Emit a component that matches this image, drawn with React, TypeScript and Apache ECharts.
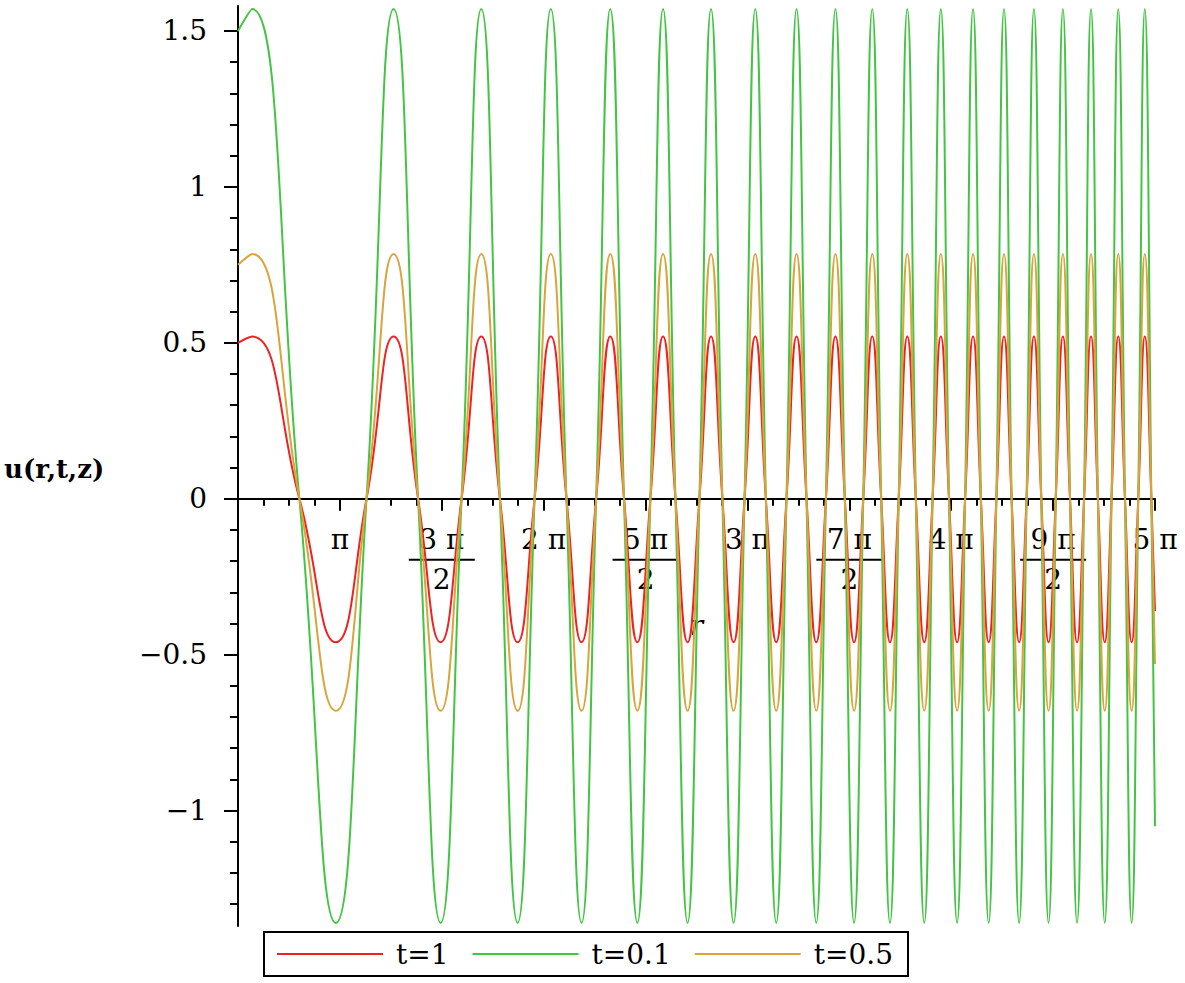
import React, { useEffect, useRef } from "react";
import * as echarts from "echarts";

// r / π positions of the curve's start, extrema and zero crossings
const rOverPi = [
  0.5,
  0.5692, 0.8013, 0.98, 1.1307,
  1.2636, 1.3838, 1.4943, 1.5972,
  1.6939, 1.7853, 1.8723, 1.9554,
  2.0352, 2.1119, 2.1859, 2.2575,
  2.3269, 2.3943, 2.4598, 2.5237,
  2.5859, 2.6467, 2.7062, 2.7643,
  2.8213, 2.8771, 2.9319, 2.9857,
  3.0385, 3.0904, 3.1414, 3.1917,
  3.2411, 3.2898, 3.3378, 3.3851,
  3.4318, 3.4779, 3.5233, 3.5682,
  3.6125, 3.6563, 3.6995, 3.7423,
  3.7845, 3.8263, 3.8677, 3.9086,
  3.9491, 3.9892, 4.0288, 4.0681,
  4.1071, 4.1456, 4.1838, 4.2216,
  4.2591, 4.2963, 4.3332, 4.3698,
  4.406, 4.442, 4.4776, 4.513,
  4.5481, 4.583, 4.6175, 4.6519,
  4.686, 4.7198, 4.7534, 4.7867,
  4.8198, 4.8527, 4.8854, 4.9178,
  4.9501, 4.9821,
  5.0,
];

const uT1 = [
  0.5,
  0.52, 0, -0.46, 0,
  0.52, 0, -0.46, 0,
  0.52, 0, -0.46, 0,
  0.52, 0, -0.46, 0,
  0.52, 0, -0.46, 0,
  0.52, 0, -0.46, 0,
  0.52, 0, -0.46, 0,
  0.52, 0, -0.46, 0,
  0.52, 0, -0.46, 0,
  0.52, 0, -0.46, 0,
  0.52, 0, -0.46, 0,
  0.52, 0, -0.46, 0,
  0.52, 0, -0.46, 0,
  0.52, 0, -0.46, 0,
  0.52, 0, -0.46, 0,
  0.52, 0, -0.46, 0,
  0.52, 0, -0.46, 0,
  0.52, 0, -0.46, 0,
  0.52, 0, -0.46, 0,
  0.52, 0,
  -0.36,
];

const uT01 = [
  1.5,
  1.57, 0, -1.36, 0,
  1.57, 0, -1.36, 0,
  1.57, 0, -1.36, 0,
  1.57, 0, -1.36, 0,
  1.57, 0, -1.36, 0,
  1.57, 0, -1.36, 0,
  1.57, 0, -1.36, 0,
  1.57, 0, -1.36, 0,
  1.57, 0, -1.36, 0,
  1.57, 0, -1.36, 0,
  1.57, 0, -1.36, 0,
  1.57, 0, -1.36, 0,
  1.57, 0, -1.36, 0,
  1.57, 0, -1.36, 0,
  1.57, 0, -1.36, 0,
  1.57, 0, -1.36, 0,
  1.57, 0, -1.36, 0,
  1.57, 0, -1.36, 0,
  1.57, 0, -1.36, 0,
  1.57, 0,
  -1.05,
];

const uT05 = [
  0.75,
  0.785, 0, -0.68, 0,
  0.785, 0, -0.68, 0,
  0.785, 0, -0.68, 0,
  0.785, 0, -0.68, 0,
  0.785, 0, -0.68, 0,
  0.785, 0, -0.68, 0,
  0.785, 0, -0.68, 0,
  0.785, 0, -0.68, 0,
  0.785, 0, -0.68, 0,
  0.785, 0, -0.68, 0,
  0.785, 0, -0.68, 0,
  0.785, 0, -0.68, 0,
  0.785, 0, -0.68, 0,
  0.785, 0, -0.68, 0,
  0.785, 0, -0.68, 0,
  0.785, 0, -0.68, 0,
  0.785, 0, -0.68, 0,
  0.785, 0, -0.68, 0,
  0.785, 0, -0.68, 0,
  0.785, 0,
  -0.53,
];

const seriesNames = ["t=1", "t=0.1", "t=0.5"];
const seriesColors = ["#ee2222", "#44c444", "#d9a43c"];

const xTickValues = [0.5, 1, 1.5, 2, 2.5, 3, 3.5, 4, 4.5, 5];
const xTickLabels = ["", "π", "3 π/2", "2 π", "5 π/2", "3 π", "7 π/2", "4 π", "9 π/2", "5 π"];

const yTickValues = [-1, -0.5, 0, 0.5, 1, 1.5];
const yTickLabels = ["−1", "−0.5", "0", "0.5", "1", "1.5"];
const yMinorTickValues = [
  -1.3, -1.2, -1.1, -0.9, -0.8, -0.7, -0.6, -0.4, -0.3, -0.2, -0.1,
  0.1, 0.2, 0.3, 0.4, 0.6, 0.7, 0.8, 0.9, 1.1, 1.2, 1.3, 1.4,
];

const Y_MIN = -1.37;
const Y_MAX = 1.58;

const xName = "r";
const yName = "u(r,t,z)";

const FONT = "'DejaVu Serif', 'Liberation Serif', serif";

const GRID_TOP = 6;
const GRID_BOTTOM = 57;
const CHART_H = 983;

export default function App() {
  const ref = useRef<HTMLDivElement>(null);

  useEffect(() => {
    if (!ref.current) return;
    const chart = echarts.init(ref.current, null, { renderer: "svg" });

    const fmtX = (v: number) => {
      const idx = xTickValues.findIndex((t) => Math.abs(t - v) < 1e-6);
      if (idx < 0) return "";
      const s = xTickLabels[idx];
      if (!s) return "";
      if (s.includes("/")) {
        const [n, d] = s.split("/");
        return `{n|${n}}\n{bar| }\n{d|${d}}`;
      }
      return `{n|${s}}`;
    };

    const fmtY = (v: number) => {
      const idx = yTickValues.findIndex((t) => Math.abs(t - v) < 1e-6);
      return idx < 0 ? "" : yTickLabels[idx];
    };

    // shift the x axis (line, ticks, labels, name) from the grid bottom up to y = 0
    const gridH = CHART_H - GRID_TOP - GRID_BOTTOM;
    const zeroFromBottom = (0 - Y_MIN) / (Y_MAX - Y_MIN) * gridH;

    const series = [uT1, uT01, uT05].map((vals, k) => ({
      name: seriesNames[k],
      type: "line",
      xAxisIndex: 0,
      yAxisIndex: 0,
      data: rOverPi.map((x, i) => [x, vals[i]]),
      symbol: "none",
      showSymbol: false,
      smooth: 0.5,
      lineStyle: { color: seriesColors[k], width: 2 },
      itemStyle: { color: seriesColors[k] },
      z: 2 + k,
    }));

    chart.setOption({
      animation: false,
      backgroundColor: "#ffffff",
      grid: {
        left: 238,
        right: 30,
        top: GRID_TOP,
        bottom: GRID_BOTTOM,
        containLabel: false,
        outerBoundsMode: "none",
      },
      legend: {
        left: 264,
        top: 932,
        data: seriesNames,
        icon: "rect",
        itemWidth: 106,
        itemHeight: 2,
        itemGap: 24,
        borderColor: "#000",
        borderWidth: 2,
        padding: [7, 15, 7, 13],
        textStyle: {
          fontFamily: FONT,
          fontSize: 28,
          color: "#000",
          lineHeight: 30,
          padding: [0, 0, 0, 8],
        },
      },
      xAxis: {
        type: "value",
        position: "bottom",
        min: 0.5,
        max: 5,
        interval: 0.5,
        offset: -zeroFromBottom,
        name: xName,
        nameLocation: "middle",
        nameGap: 113,
        nameTextStyle: {
          fontFamily: FONT,
          fontStyle: "italic",
          fontSize: 28,
          color: "#000",
        },
        axisLine: { show: true, onZero: false, lineStyle: { color: "#000", width: 2 } },
        axisTick: { show: true, length: 12, lineStyle: { color: "#000", width: 2 } },
        minorTick: { show: true, splitNumber: 4, length: 7, lineStyle: { color: "#000", width: 2 } },
        splitLine: { show: false },
        minorSplitLine: { show: false },
        axisLabel: {
          margin: 25,
          hideOverlap: false,
          showMinLabel: true,
          showMaxLabel: true,
          formatter: fmtX,
          color: "#000",
          rich: {
            n: { fontFamily: FONT, fontSize: 28, lineHeight: 32, color: "#000" },
            bar: { width: 66, height: 2, lineHeight: 8, fontSize: 2, backgroundColor: "#000" },
            d: { fontFamily: FONT, fontSize: 28, lineHeight: 32, color: "#000" },
          },
        },
      },
      yAxis: [
        {
          type: "value",
          min: Y_MIN,
          max: Y_MAX,
          axisLine: { show: true, onZero: false, lineStyle: { color: "#000", width: 2 } },
          axisTick: {
            show: true,
            length: 8,
            customValues: yMinorTickValues,
            lineStyle: { color: "#000", width: 2 },
          },
          axisLabel: { show: false },
          splitLine: { show: false },
        },
        {
          type: "value",
          min: Y_MIN,
          max: Y_MAX,
          position: "left",
          offset: 0,
          axisLine: { show: false, onZero: false },
          axisTick: {
            show: true,
            length: 14,
            customValues: yTickValues,
            lineStyle: { color: "#000", width: 2 },
          },
          axisLabel: {
            show: true,
            customValues: yTickValues,
            formatter: fmtY,
            margin: 31,
            fontFamily: FONT,
            fontSize: 28,
            color: "#000",
          },
          splitLine: { show: false },
        },
      ],
      graphic: [
        {
          type: "text",
          left: 4,
          top: 456,
          style: {
            text: yName,
            fontFamily: FONT,
            fontWeight: "bold",
            fontSize: 26,
            fill: "#000",
          },
        },
      ],
      series,
    });

    return () => chart.dispose();
  }, []);

  return (
    <div
      ref={ref}
      style={{ position: "fixed", left: 0, top: 0, width: 1185, height: CHART_H, background: "#fff" }}
    />
  );
}
